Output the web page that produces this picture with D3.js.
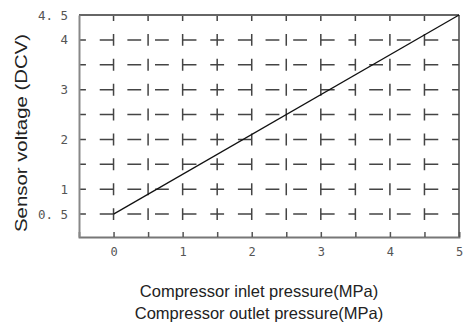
<!DOCTYPE html>
<html>
<head>
<meta charset="utf-8">
<script src="https://cdn.jsdelivr.net/npm/d3@7"></script>
<style>
  html, body { margin: 0; padding: 0; background: #fff; }
  svg { display: block; }
</style>
</head>
<body>
<svg id="chart" width="466" height="332"></svg>
<script>
// pressure (MPa) vs sensor voltage (DCV)
const pressure = [0, 5];
const voltage = [0.5, 4.5];

const xTickValues = [0, 1, 2, 3, 4, 5];
const xTickLabels = ['0', '1', '2', '3', '4', '5'];
const yTickValues = [0.5, 1, 2, 3, 4, 4.5];
const yTickLabels = ['0. 5', '1', '2', '3', '4', '4. 5'];

const xGridValues = [0, 0.5, 1, 1.5, 2, 2.5, 3, 3.5, 4, 4.5];
const yGridValues = [0.5, 1, 1.5, 2, 2.5, 3, 3.5, 4];

const yTitle = 'Sensor voltage (DCV)';
const xTitles = ['Compressor inlet pressure(MPa)', 'Compressor outlet pressure(MPa)'];

const width = 466;
const height = 332;
const margin = { top: 15, right: 7, bottom: 95, left: 79 };

const svg = d3.select('#chart');

const x = d3.scaleLinear().domain([-0.5, 5]).range([margin.left, width - margin.right]);
const y = d3.scaleLinear().domain([0.04, 4.5]).range([height - margin.bottom, margin.top]);

const unitX = x(1) - x(0);
const unitY = y(0) - y(0.5); // px per half volt

// horizontal dashed grid (pattern restarts at 3.5)
const grid = svg.append('g').attr('class', 'grid')
  .attr('stroke', '#444').attr('stroke-width', 1.5).attr('fill', 'none');

const dash = 0.2 * unitX;
grid.selectAll('line.h1')
  .data(yGridValues)
  .join('line')
  .attr('class', 'h1')
  .attr('x1', x(-0.5)).attr('x2', x(3.5))
  .attr('y1', d => y(d)).attr('y2', d => y(d))
  .attr('stroke-dasharray', `${dash} ${dash}`)
  .attr('stroke-dashoffset', 0.1 * unitX);

grid.selectAll('line.h2')
  .data(yGridValues)
  .join('line')
  .attr('class', 'h2')
  .attr('x1', x(3.5)).attr('x2', x(5))
  .attr('y1', d => y(d)).attr('y2', d => y(d))
  .attr('stroke-dasharray', `${dash} ${dash}`)
  .attr('stroke-dashoffset', dash);

// vertical grid: short pieces centred on each half volt
const vDash = 0.48 * unitY;
grid.selectAll('line.v')
  .data(xGridValues)
  .join('line')
  .attr('class', 'v')
  .attr('x1', d => x(d)).attr('x2', d => x(d))
  .attr('y1', y(4.5)).attr('y2', y.range()[0] - 4)
  .attr('stroke-dasharray', `${vDash} ${unitY - vDash}`)
  .attr('stroke-dashoffset', vDash / 2);

// frame
svg.append('line')
  .attr('x1', x(-0.5)).attr('x2', x(5))
  .attr('y1', y(4.5)).attr('y2', y(4.5))
  .attr('stroke', '#666').attr('stroke-width', 2);
svg.append('line')
  .attr('x1', x(5)).attr('x2', x(5))
  .attr('y1', y(4.5)).attr('y2', y.range()[0])
  .attr('stroke', '#444').attr('stroke-width', 1.5);

const xAxis = svg.append('g')
  .attr('transform', `translate(0,${y.range()[0]})`)
  .call(d3.axisBottom(x).tickValues(xGridValues.concat([5]))
    .tickFormat(d => {
      const i = xTickValues.indexOf(d);
      return i < 0 ? '' : xTickLabels[i];
    }).tickSize(-5).tickPadding(10));
xAxis.select('.domain').attr('stroke', '#777').attr('stroke-width', 1.8);
xAxis.selectAll('.tick line').attr('stroke', '#555').attr('stroke-width', 1.5);
xAxis.selectAll('text')
  .attr('font-family', '"DejaVu Sans Mono", monospace')
  .attr('font-size', 12).attr('fill', '#555');

const yAxis = svg.append('g')
  .attr('transform', `translate(${margin.left},0)`)
  .call(d3.axisLeft(y).tickValues(yTickValues)
    .tickFormat((d, i) => yTickLabels[i]).tickSize(0).tickPadding(11));
yAxis.select('.domain').attr('stroke', '#888').attr('stroke-width', 2);
yAxis.selectAll('text')
  .attr('font-family', '"DejaVu Sans Mono", monospace')
  .attr('font-size', 12.5).attr('fill', '#555')
  .style('white-space', 'pre');

// data line
const lineData = pressure.map((p, i) => [p, voltage[i]]);
svg.append('path')
  .datum(lineData)
  .attr('fill', 'none')
  .attr('stroke', '#111')
  .attr('stroke-width', 1.3)
  .attr('d', d3.line().x(d => x(d[0])).y(d => y(d[1])));

// titles
svg.append('text')
  .attr('transform', 'translate(27,133) rotate(-90)')
  .attr('text-anchor', 'middle')
  .attr('font-family', '"Liberation Sans", Arial, sans-serif')
  .attr('font-size', 17)
  .attr('textLength', 198)
  .attr('lengthAdjust', 'spacingAndGlyphs')
  .attr('fill', '#222')
  .text(yTitle);

svg.selectAll('text.xtitle')
  .data(xTitles)
  .join('text')
  .attr('class', 'xtitle')
  .attr('x', 259)
  .attr('y', (d, i) => 297 + i * 22)
  .attr('text-anchor', 'middle')
  .attr('font-family', '"Liberation Sans", Arial, sans-serif')
  .attr('font-size', 16.5)
  .attr('fill', '#222')
  .text(d => d);
</script>
</body>
</html>
